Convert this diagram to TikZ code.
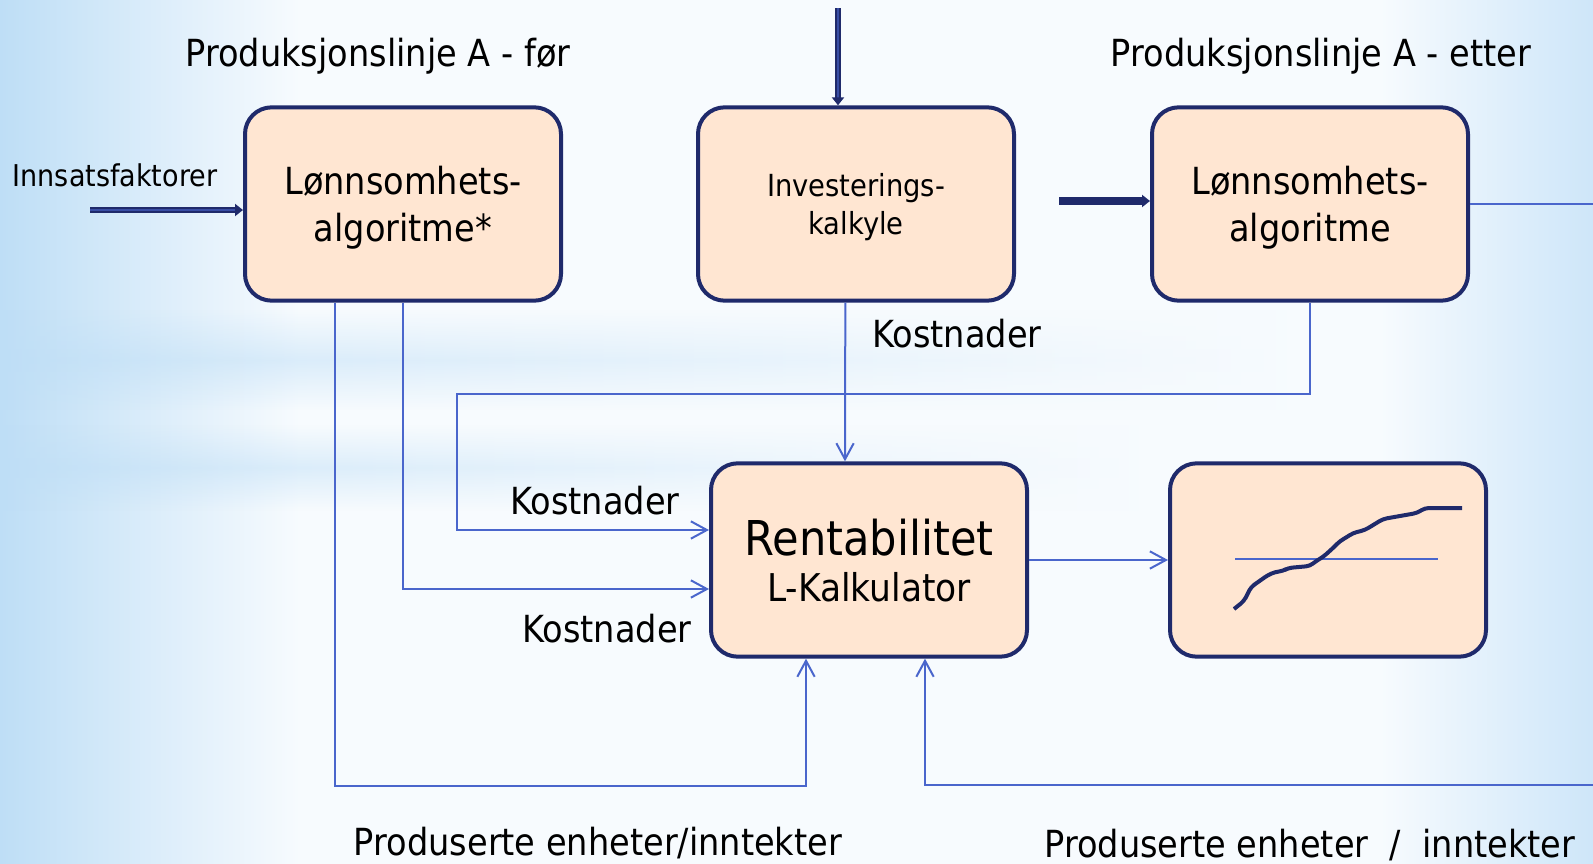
\documentclass[tikz,border=0pt]{standalone}
\usepackage{fontspec}
\setmainfont{DejaVu Sans}[FakeStretch=0.9]
\usetikzlibrary{arrows.meta,fadings}
\definecolor{boxline}{RGB}{31,42,107}
\definecolor{boxfill}{RGB}{255,230,210}
\definecolor{linkblue}{RGB}{74,102,204}
\definecolor{bgleft}{RGB}{190,222,246}
\definecolor{bgright}{RGB}{206,230,249}
\definecolor{bgmid}{RGB}{247,251,254}
\tikzfading[name=bandfade, top color=transparent!100, bottom color=transparent!100, middle color=transparent!35]
\tikzset{
    box/.style={draw=boxline, fill=boxfill, line width=3pt, rounded corners=20pt,
        minimum width=237pt, minimum height=145pt, align=center, text depth=0pt},
    link/.style={draw=linkblue, line width=1.5pt, -{Straight Barb[length=12pt,width=13pt]}},
    plainlink/.style={draw=linkblue, line width=1.5pt},
    feed/.style={draw=boxline, line width=2pt, double=linkblue!60!boxline, double distance=1pt,
        -{Triangle[length=6pt,width=9pt]}},
    lab/.style={font=\fontsize{28}{32}\selectfont, inner sep=0pt}
}

\begin{document}
\begin{tikzpicture}[x=0.75pt,y=0.75pt,yscale=-1]
\useasboundingbox (0,0) rectangle (1593,864);

% background
\fill[bgmid] (0,0) rectangle (1593,864);
\shade[left color=bgleft, right color=bgmid] (0,0) rectangle (300,864);
\shade[left color=bgmid, right color=bgright] (1380,0) rectangle (1593,864);
\shade[left color=bgleft, right color=bgmid, path fading=bandfade] (0,310) rectangle (1300,410);
\shade[left color=bgleft, right color=bgmid, path fading=bandfade] (0,425) rectangle (1150,510);

% Boxes
\node[box, font=\fontsize{28}{35}\selectfont] (lonnfor) at (403,204) {Lønnsomhets-\\algoritme*};
\node[box, font=\fontsize{22.8}{28}\selectfont] (invest) at (856,204) {Investerings-\\kalkyle};
\node[box, font=\fontsize{28}{35}\selectfont] (lonnetter) at (1310,204) {Lønnsomhets-\\algoritme};
\node[box] (rentab) at (869,560) {{\fontsize{36}{40}\selectfont Rentabilitet}\\[11pt]{\fontsize{28.7}{32}\selectfont L-Kalkulator}};
\node[box] (graf) at (1328,560) {};

% Text Node
\node[lab] (tittelfor) at (378,56) {Produksjonslinje A - før};
\node[lab] (tittelettr) at (1321,56) {Produksjonslinje A - etter};
\node[lab, font=\fontsize{22.5}{26}\selectfont] (innsats) at (115,175) {Innsatsfaktorer};
\node[lab] (kostinv) at (957,334) {Kostnader};
\node[lab] (kostetter) at (595,501) {Kostnader};
\node[lab] (kostfor) at (607,629) {Kostnader};
\node[lab] (prodfor) at (598,843) {Produserte enheter/inntekter};
\node[lab] (prodetter) at (1310,845) {Produserte enheter\ \ /\ \ inntekter};

% free ends
\coordinate (innpil) at (90,210);
\coordinate (investpil) at (838,8);
\coordinate (midtpil) at (1059,201);
\coordinate (hoyreut) at (1593,204);
\coordinate (hoyreinn) at (1593,785);

% thick feeds
\draw[feed] (innpil) -- (innpil -| lonnfor.west);
\draw[feed] (investpil) -- (investpil |- invest.north);
\draw[draw=boxline, line width=6pt, -{Triangle[length=6pt,width=9pt]}] (midtpil) -- (midtpil -| lonnetter.west);

% thin links
\draw[plainlink] (lonnetter.east) -- (lonnetter.east -| hoyreut);
\draw[link] ([xshift=-8pt]invest.south) -- ([xshift=-18pt]rentab.north);
\draw[link] (lonnetter.south) |- (457,394) |- ([yshift=-22.5pt]rentab.west);
\draw[link] (lonnfor.south) |- ([yshift=21.75pt]rentab.west);
\draw[link] ([xshift=-51pt]lonnfor.south) -- ++(0,483) -| ([xshift=-47.25pt]rentab.south);
\draw[link] (hoyreinn) -| ([xshift=42pt]rentab.south);
\draw[link] (rentab.east) -- (graf.west);

% chart in box
\draw[plainlink] (1235,559) -- (1438,559);
\draw[boxline, line width=3pt, rounded corners=3pt] (1234,609) -- (1244,601) -- (1247,595) -- (1251,587) -- (1268,575) -- (1275,572) -- (1283,571) -- (1288,568) -- (1310,566) -- (1316,561) -- (1323,557) -- (1333,548) -- (1340,541) -- (1347,537) -- (1353,533) -- (1365,530) -- (1383,519) -- (1417,513) -- (1425,508) -- (1462,508);

\end{tikzpicture}
\end{document}
